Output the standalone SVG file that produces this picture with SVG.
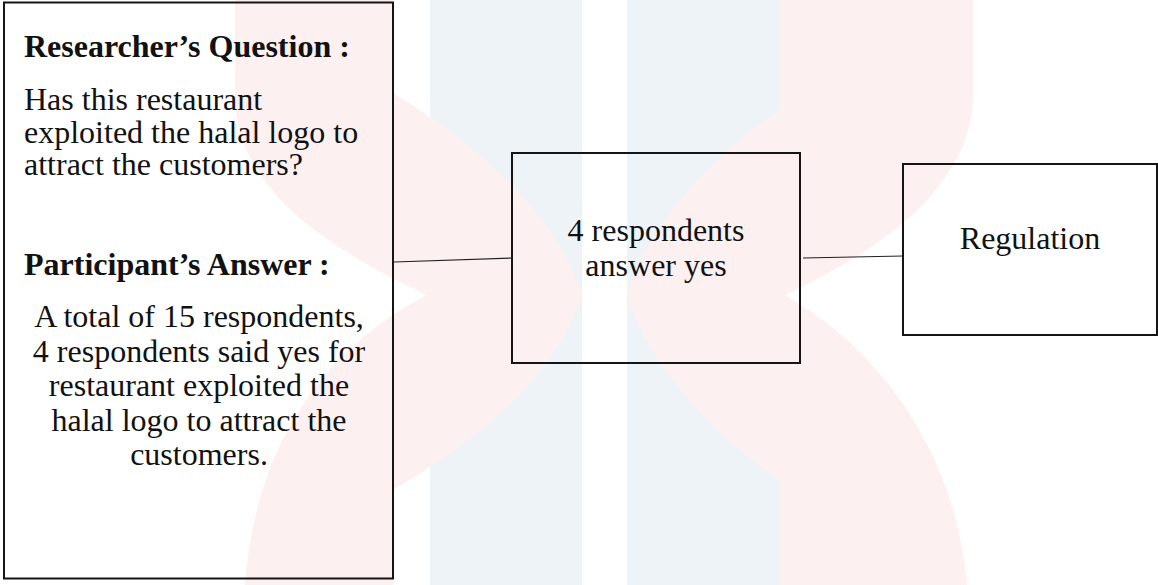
<svg xmlns="http://www.w3.org/2000/svg" width="1158" height="585" viewBox="0 0 1158 585">
  <style>
    .box { fill: none; stroke: #151515; stroke-width: 2; }
    .conn { stroke: #222; stroke-width: 1.2; fill: none; }
    .t { font-family: "Liberation Serif", "Times New Roman", serif; font-size: 32px; fill: #111; }
    .b { font-weight: bold; }
    .c { text-anchor: middle; }
    .pink { fill: #fdf0f0; }
    .blue { fill: #eef3f8; }
  </style>
  <rect width="1158" height="585" fill="#ffffff"/>
  <g id="watermark">
    <rect class="blue" x="430" y="0" width="152" height="585"/>
    <rect class="blue" x="627" y="0" width="153" height="585"/>
    <path class="pink" d="M 235 0 L 393 0 L 393 93 C 470 140, 555 210, 582 295 C 555 380, 470 445, 393 490 L 393 585 L 245 585 C 255 440, 330 345, 427 295 C 330 250, 238 190, 235 100 Z"/>
    <path class="pink" d="M 973 0 L 780 0 L 780 110 C 720 150, 650 220, 627 295 C 650 370, 720 440, 780 480 L 780 585 L 967 585 C 955 450, 880 350, 785 295 C 880 250, 968 190, 973 100 Z"/>
  </g>
  <g id="connectors">
    <line class="conn" x1="394" y1="262" x2="512" y2="258"/>
    <line class="conn" x1="803" y1="258" x2="903" y2="256"/>
  </g>
  <g id="node-question">
    <rect class="box" x="4" y="2.5" width="389" height="576"/>
    <text class="t b" x="24" y="57">Researcher’s Question :</text>
    <text class="t" x="24" y="110">Has this restaurant</text>
    <text class="t" x="24" y="143">exploited the halal logo to</text>
    <text class="t" x="24" y="175">attract the customers?</text>
    <text class="t b" x="24" y="275">Participant’s Answer :</text>
    <text class="t c" x="199" y="327">A total of 15 respondents,</text>
    <text class="t c" x="199" y="362">4 respondents said yes for</text>
    <text class="t c" x="199" y="396">restaurant exploited the</text>
    <text class="t c" x="199" y="431">halal logo to attract the</text>
    <text class="t c" x="199" y="465">customers.</text>
  </g>
  <g id="node-yes">
    <rect class="box" x="512" y="153" width="288" height="210"/>
    <text class="t c" x="656" y="241">4 respondents</text>
    <text class="t c" x="656" y="276">answer yes</text>
  </g>
  <g id="node-regulation">
    <rect class="box" x="903" y="164" width="254" height="171"/>
    <text class="t c" x="1030" y="249">Regulation</text>
  </g>
</svg>
